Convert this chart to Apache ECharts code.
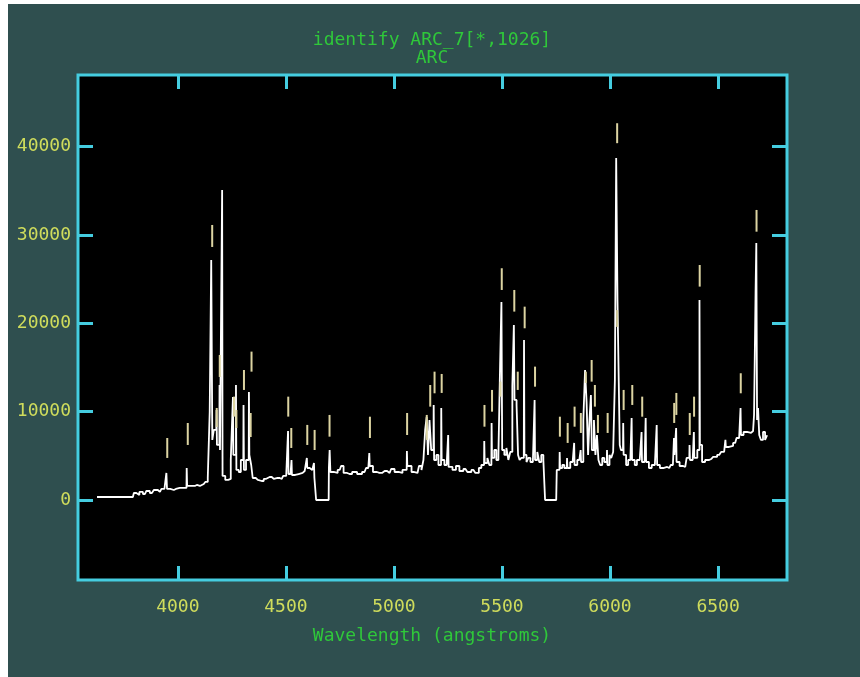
<!DOCTYPE html>
<html>
<head>
<meta charset="utf-8">
<title>identify ARC_7[*,1026]</title>
<script src="https://cdn.jsdelivr.net/npm/echarts@6/dist/echarts.min.js"></script>
<style>
  html, body { margin: 0; padding: 0; background: #ffffff; }
  #chart { width: 860px; height: 677px; }
</style>
</head>
<body>
<div id="chart"></div>
<script>
// Extracted arc-lamp spectrum, row 1026: [wavelength (angstroms), counts]
const spectrum = [
  [3626,340],[3792,340],[3801,790],[3815,570],[3829,910],[3848,680],[3861,1020],[3880,790],[3898,1130],[3917,910],
  [3931,1250],[3945,1360],[3949,3060],[3951,1250],[3958,1250],[3972,1130],[3991,1250],
  [4009,1360],[4028,1360],[4040,1360],[4042,3620],[4044,1590],[4051,1590],[4069,1590],[4088,1700],[4102,1590],
  [4120,1810],[4134,2040],[4143,2490],[4152,9970],[4157,27180],[4162,6800],[4171,7930],[4178,7930],[4180,10190],
  [4182,6230],[4185,6230],[4192,6230],[4194,13020],[4196,5660],[4199,5660],[4204,5660],[4206,35110],[4208,2720],
  [4213,2720],[4226,2270],[4240,2380],[4250,4530],[4254,4530],[4256,11660],[4258,5100],[4263,5100],[4268,5100],
  [4270,13020],[4272,3400],[4277,3400],[4287,3170],[4296,4530],[4303,4530],[4305,10760],[4307,3400],[4312,3400],
  [4319,4530],[4328,4530],[4330,12230],[4332,5100],[4337,5100],[4342,3960],[4351,2490],[4370,2270],[4388,2150],
  [4407,2380],[4425,2600],[4444,2380],[4462,2490],[4481,2380],[4494,2720],[4509,2720],[4511,7810],[4513,2940],
  [4518,2940],[4525,2940],[4527,4530],[4529,2830],[4536,2830],[4550,2940],[4568,3060],[4587,3280],[4596,3280],
  [4598,4760],[4600,3620],[4605,3620],[4615,3400],[4629,3400],[4631,4190],[4633,2490],[4638,2490],[4642,0],
  [4698,0],[4700,3620],[4705,5660],[4707,3170],[4712,3170],[4730,3060],[4749,3400],[4762,3850],[4772,3060],
  [4795,2940],[4818,3170],[4841,2940],[4864,3170],[4878,3620],[4885,3620],[4887,5320],[4889,3850],[4896,3850],
  [4910,3170],[4933,3060],[4957,3280],[4980,3060],[4994,3510],[5012,3170],[5030,3060],[5049,3400],[5059,3400],
  [5061,5550],[5063,3850],[5072,3850],[5091,3170],[5109,3060],[5123,3850],[5132,3400],[5141,4530],[5148,7930],
  [5155,9400],[5160,5100],[5169,9060],[5176,5660],[5183,5660],[5185,10760],[5187,4530],[5192,4530],[5201,5100],
  [5211,3960],[5218,3960],[5220,10420],[5222,4530],[5229,4530],[5238,3960],[5250,3960],[5252,7360],[5254,3740],
  [5262,3740],[5280,3400],[5294,3850],[5312,3280],[5331,3510],[5349,3170],[5368,3400],[5386,3060],[5400,3620],
  [5409,3960],[5417,3960],[5419,6680],[5421,4190],[5428,4190],[5437,4760],[5446,3960],[5451,3960],[5453,8720],
  [5455,4760],[5460,4760],[5469,5660],[5479,4530],[5488,5100],[5495,15520],[5500,22420],[5502,5660],[5506,5660],
  [5516,5100],[5525,5890],[5534,4530],[5543,5440],[5553,12910],[5557,19820],[5559,11330],[5564,11330],[5571,10760],
  [5578,5100],[5585,4530],[5594,4760],[5601,4760],[5603,18120],[5605,5100],[5610,5100],[5617,4300],[5627,4760],
  [5636,4300],[5650,4300],[5652,11330],[5654,4530],[5659,4530],[5668,5440],[5677,4300],[5687,5100],[5696,4530],
  [5703,0],[5751,0],[5756,3400],[5766,3400],[5768,5440],[5770,3620],[5774,3620],[5784,3960],[5793,3620],
  [5800,3620],[5802,4760],[5804,3620],[5811,3620],[5821,4300],[5833,4300],[5835,6460],[5837,3960],[5844,3960],
  [5853,4530],[5863,4530],[5865,5660],[5867,4300],[5872,4300],[5881,9060],[5888,14720],[5895,11100],[5902,5100],
  [5908,9060],[5915,11890],[5917,5660],[5922,5660],[5929,9060],[5936,5100],[5943,7360],[5950,4530],[5959,3960],
  [5969,4760],[5978,4300],[5985,4300],[5987,5660],[5989,3960],[5994,3960],[6001,5100],[6010,4760],[6019,5440],
  [6026,13590],[6031,38730],[6038,22650],[6043,13250],[6047,6230],[6054,5660],[6060,5660],[6062,8720],[6064,5100],
  [6070,5100],[6079,3960],[6089,4530],[6099,4530],[6101,9290],[6103,4530],[6110,4530],[6119,3960],[6130,4530],
  [6145,4530],[6147,7700],[6149,4300],[6156,4300],[6164,4300],[6166,9290],[6168,4300],[6174,4300],[6186,3620],
  [6200,3960],[6215,3960],[6217,8490],[6219,3960],[6225,3960],[6237,3620],[6255,3740],[6274,3620],[6287,3960],
  [6295,3960],[6297,7020],[6299,5100],[6301,5100],[6305,5100],[6307,8150],[6309,4300],[6315,4300],[6329,3850],
  [6348,3740],[6361,4760],[6367,4760],[6369,6230],[6371,4530],[6378,4530],[6387,4530],[6389,7700],[6391,4760],
  [6398,4760],[6410,5660],[6413,5660],[6415,22650],[6417,6230],[6421,6230],[6431,4300],[6449,4530],[6468,4640],
  [6486,4870],[6505,5100],[6523,5440],[6533,5440],[6535,6800],[6537,6000],[6542,6000],[6560,6120],[6579,6460],
  [6592,7020],[6603,7020],[6605,10420],[6607,7360],[6611,7360],[6625,7700],[6643,7590],[6662,7810],[6671,9630],
  [6676,23440],[6678,29100],[6683,9060],[6687,10420],[6694,7360],[6703,6800],[6713,7700],[6722,6800],[6729,7250]
];

// Identified lines: tick position and the count range spanned by each tick
const markWave = [
  3951, 4046, 4159, 4180, 4194, 4260, 4271, 4306, 4337, 4341, 4511, 4525, 4599, 4633, 4702, 4889,
  5061, 5152, 5168, 5188, 5221, 5419, 5454, 5493, 5499, 5557, 5573, 5605, 5653, 5768, 5804, 5836,
  5865, 5888, 5915, 5930, 5944, 5989, 6033, 6033, 6063, 6103, 6149, 6297, 6307, 6369, 6389, 6415,
  6605, 6678
];
const markLow = [
  4760, 6230, 28650, 8270, 13930, 9440, 8150, 12460, 7130, 14530, 9440, 5890, 6230, 5660, 7170, 7020,
  7360, 6800, 10570, 12080, 12120, 8300, 10000, 11700, 23780, 21330, 12460, 19440, 12830, 7170, 6460, 8300,
  7590, 13250, 13400, 10570, 7590, 7590, 40400, 19600, 10190, 10760, 9430, 8720, 9630, 7360, 9430, 24160,
  12080, 30380
];
const markHigh = [
  7020, 8720, 31140, 10420, 16420, 11700, 10190, 14720, 9850, 16800, 11700, 8150, 8500, 7930, 9630, 9430,
  9850, 9630, 13020, 14530, 14270, 10760, 12460, 13400, 26240, 23780, 14530, 21890, 15100, 9430, 8720, 10570,
  9850, 14530, 15850, 13020, 9630, 9850, 42660, 21500, 12460, 13020, 11700, 10990, 12120, 9850, 11700, 26610,
  14350, 32840
];

// Axis ticks
const xTicks = [4000, 4500, 5000, 5500, 6000, 6500];
const yTicks = [0, 10000, 20000, 30000, 40000];

const FRAME = '#45cde0';
const LABEL = '#cfdc5c';
const GREEN = '#2fc83a';
const MONO = '"DejaVu Sans Mono", "Liberation Mono", monospace';
const FONT_SIZE = 18;

const xRange = { min: 3538, max: 6819 };
const yRange = { min: -9060, max: 48120 };

function valueAxis(range, ticks, position, tickLen, showLabels, labelMargin) {
  return {
    type: 'value',
    position: position,
    min: range.min,
    max: range.max,
    splitLine: { show: false },
    axisLine: { show: false, onZero: false },
    axisTick: {
      show: true,
      inside: true,
      length: tickLen,
      customValues: ticks,
      lineStyle: { color: FRAME, width: 3 }
    },
    axisLabel: {
      show: showLabels,
      customValues: ticks,
      margin: labelMargin,
      color: LABEL,
      fontFamily: MONO,
      fontSize: FONT_SIZE,
      formatter: v => String(v)
    }
  };
}

const chart = echarts.init(document.getElementById('chart'), null, { renderer: 'canvas' });

chart.setOption({
  animation: false,
  backgroundColor: '#2f4f4f',
  grid: {
    left: 78, right: 73, top: 75, bottom: 97,
    show: true,
    backgroundColor: '#000000',
    borderColor: FRAME,
    borderWidth: 3
  },
  xAxis: [
    valueAxis(xRange, xTicks, 'bottom', 14, true, 18),
    valueAxis(xRange, xTicks, 'top', 14, false, 8)
  ],
  yAxis: [
    valueAxis(yRange, yTicks, 'left', 15, true, 7),
    valueAxis(yRange, yTicks, 'right', 15, false, 8)
  ],
  graphic: [
    { type: 'rect', shape: { x: 0, y: 0, width: 8, height: 677 }, style: { fill: '#ffffff' }, silent: true },
    { type: 'rect', shape: { x: 0, y: 0, width: 860, height: 4 }, style: { fill: '#ffffff' }, silent: true },
    {
      type: 'text', x: 432, y: 40,
      style: { text: 'identify ARC_7[*,1026]', fill: GREEN, font: FONT_SIZE + 'px ' + MONO, textAlign: 'center', textVerticalAlign: 'middle' }
    },
    {
      type: 'text', x: 432, y: 58,
      style: { text: 'ARC', fill: GREEN, font: FONT_SIZE + 'px ' + MONO, textAlign: 'center', textVerticalAlign: 'middle' }
    },
    {
      type: 'text', x: 432, y: 636,
      style: { text: 'Wavelength (angstroms)', fill: GREEN, font: FONT_SIZE + 'px ' + MONO, textAlign: 'center', textVerticalAlign: 'middle' }
    }
  ],
  series: [
    {
      type: 'line',
      xAxisIndex: 0,
      yAxisIndex: 0,
      data: spectrum,
      step: 'middle',
      showSymbol: false,
      clip: true,
      lineStyle: { color: '#ffffff', width: 1.8 },
      z: 3
    },
    {
      type: 'custom',
      xAxisIndex: 0,
      yAxisIndex: 0,
      data: markWave.map((w, i) => [w, markLow[i], markHigh[i]]),
      encode: { x: 0, y: [1, 2] },
      renderItem: function (params, api) {
        const lo = api.coord([api.value(0), api.value(1)]);
        const hi = api.coord([api.value(0), api.value(2)]);
        return {
          type: 'line',
          shape: { x1: lo[0], y1: lo[1], x2: hi[0], y2: hi[1] },
          style: { stroke: '#dcd4a2', lineWidth: 2 }
        };
      },
      z: 4
    }
  ]
});
</script>
</body>
</html>
